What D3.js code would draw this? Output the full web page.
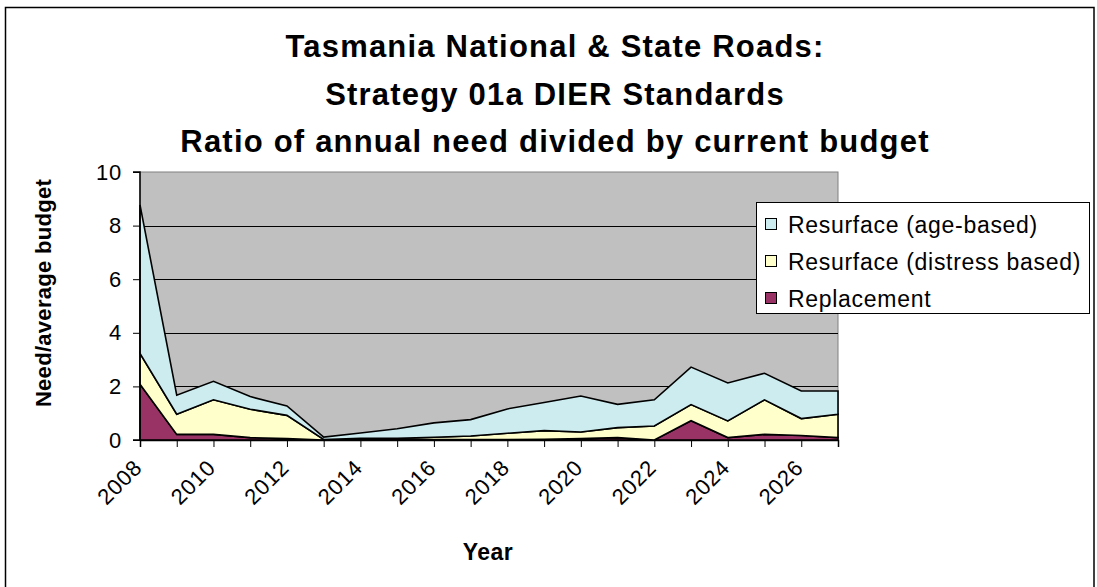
<!DOCTYPE html>
<html><head><meta charset="utf-8">
<script src="https://cdn.jsdelivr.net/npm/d3@7"></script>
<style>body{margin:0;background:#fff}svg{display:block}text{font-family:"Liberation Sans",Arial,sans-serif}</style>
</head><body>
<svg id="c" width="1097" height="587"></svg>
<script>
const years = [2008,2009,2010,2011,2012,2013,2014,2015,2016,2017,2018,2019,2020,2021,2022,2023,2024,2025,2026,2027];
const replacement = [2.08,0.21,0.21,0.09,0.05,0.00,0.01,0.01,0.02,0.02,0.02,0.03,0.05,0.09,0.00,0.72,0.09,0.21,0.17,0.09];
const distress    = [1.15,0.75,1.29,1.06,0.87,0.02,0.05,0.05,0.08,0.13,0.23,0.32,0.25,0.37,0.52,0.60,0.62,1.29,0.63,0.87];
const ageBased    = [5.54,0.71,0.69,0.47,0.35,0.09,0.20,0.36,0.54,0.61,0.91,1.05,1.34,0.87,0.98,1.40,1.42,0.99,1.03,0.87];
const seriesNames = ["Replacement","Resurface (distress based)","Resurface (age-based)"];
const seriesColors = ["#993366","#FFFFCC","#CCECF0"];
const xTickLabels = [2008,2010,2012,2014,2016,2018,2020,2022,2024,2026];
const yTicks = [0,2,4,6,8,10];
const titleLines = ["Tasmania National & State Roads:","Strategy 01a DIER Standards","Ratio of annual need divided by current budget"];

const svg = d3.select("#c");
svg.append("rect").attr("width",1097).attr("height",587).attr("fill","#fff");
svg.append("rect").attr("x",5.5).attr("y",7.5).attr("width",1088.5).attr("height",620)
  .attr("fill","none").attr("stroke","#000").attr("stroke-width",1.5);

const L=140,R=838,T=172,B=440;
const x = d3.scaleLinear().domain([2008,2027]).range([L,R]);
const y = d3.scaleLinear().domain([0,10]).range([B,T]);

// plot area
svg.append("rect").attr("x",L).attr("y",T).attr("width",R-L).attr("height",B-T)
  .attr("fill","#C0C0C0").attr("stroke","#808080").attr("stroke-width",1);

// gridlines
svg.append("g").selectAll("line").data(yTicks.filter(d=>d>0&&d<10)).join("line")
  .attr("x1",L).attr("x2",R).attr("y1",d=>Math.round(y(d))+0.5).attr("y2",d=>Math.round(y(d))+0.5)
  .attr("stroke","#000").attr("stroke-width",1);

// stacked data
const rows = years.map((yr,i)=>({year:yr, r:replacement[i], d:distress[i], a:ageBased[i]}));
const stack = d3.stack().keys(["r","d","a"]);
const stacked = stack(rows);
const area = d3.area().x(d=>x(d.data.year)).y0(d=>y(d[0])).y1(d=>y(d[1]));
svg.append("g").selectAll("path").data(stacked).join("path")
  .attr("d",area).attr("fill",(d,i)=>seriesColors[i])
  .attr("stroke","#000").attr("stroke-width",1.6).attr("stroke-linejoin","miter");

// axes
const yAxis = d3.axisLeft(y).tickValues(yTicks).tickSize(7).tickPadding(11).tickFormat(d3.format("d"));
const gy = svg.append("g").attr("transform",`translate(${L},0)`).call(yAxis);
gy.select(".domain").attr("stroke","#000").attr("stroke-width",1.5).attr("d",`M-7,${T}H0V${B}H-7`);
gy.selectAll(".tick line").attr("stroke","#000").attr("stroke-width",1);
gy.selectAll(".tick text").attr("font-size",22).attr("letter-spacing",0.8).attr("fill","#000").attr("font-family","Liberation Sans, Arial, sans-serif");

const xAxis = d3.axisBottom(x).tickValues(years).tickSize(7).tickFormat(d=>xTickLabels.includes(d)?d:"");
const gx = svg.append("g").attr("transform",`translate(0,${B})`).call(xAxis);
gx.select(".domain").attr("stroke","#000").attr("stroke-width",1.5);
gx.selectAll(".tick line").attr("stroke","#000").attr("stroke-width",1);
gx.selectAll(".tick text").attr("font-size",22).attr("letter-spacing",0.8).attr("fill","#000").attr("font-family","Liberation Sans, Arial, sans-serif")
  .attr("text-anchor","end").attr("dy",null).attr("y",null)
  .attr("transform","translate(3,29) rotate(-45)");

// titles
svg.append("g").selectAll("text").data(titleLines).join("text")
  .attr("x",555).attr("y",(d,i)=>57+i*47.5).attr("text-anchor","middle")
  .attr("font-size",31).attr("letter-spacing",1.2).attr("font-weight","bold").text(d=>d);

svg.append("text").attr("transform","translate(51,293) rotate(-90)").attr("text-anchor","middle")
  .attr("font-size",22).attr("letter-spacing",0.3).attr("font-weight","bold").text("Need/average budget");
svg.append("text").attr("x",488).attr("y",560).attr("text-anchor","middle")
  .attr("font-size",23).attr("letter-spacing",0.5).attr("font-weight","bold").text("Year");

// legend
const lg = svg.append("g");
lg.append("rect").attr("x",756.5).attr("y",202.5).attr("width",333).attr("height",111)
  .attr("fill","#fff").attr("stroke","#000").attr("stroke-width",1);
const legendOrder = [2,1,0];
const li = lg.selectAll("g.item").data(legendOrder).join("g").attr("class","item")
  .attr("transform",(d,i)=>`translate(0,${i*37})`);
li.append("rect").attr("x",765.5).attr("y",218.5).attr("width",11).attr("height",11)
  .attr("fill",d=>seriesColors[d]).attr("stroke","#000").attr("stroke-width",1);
li.append("text").attr("x",788).attr("y",232.5).attr("font-size",23).attr("letter-spacing",0.7).text(d=>seriesNames[d]);
</script>
</body></html>
